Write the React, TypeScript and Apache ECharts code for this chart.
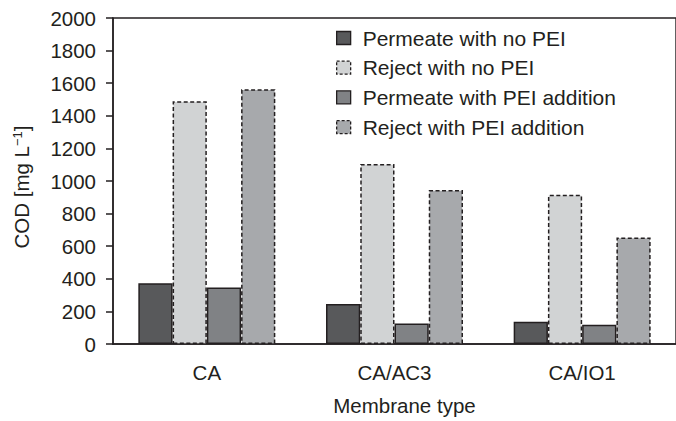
import React, { useEffect, useRef } from "react";
import * as echarts from "echarts";

const categories = ["CA", "CA/AC3", "CA/IO1"];
const seriesNames = [
  "Permeate with no PEI",
  "Reject with no PEI",
  "Permeate with PEI addition",
  "Reject with PEI addition",
];
const permeateNoPEI = [372, 246, 136];
const rejectNoPEI = [1490, 1105, 915];
const permeatePEI = [346, 126, 118];
const rejectPEI = [1563, 945, 654];
const yTicks = { min: 0, max: 2000, interval: 200 };

const FONT = "'Liberation Sans', Arial, Helvetica, sans-serif";
const INK = "#231f20";

export default function App() {
  const ref = useRef<HTMLDivElement>(null);
  useEffect(() => {
    if (!ref.current) return;
    const chart = echarts.init(ref.current, undefined, { renderer: "svg" });
    const values = [permeateNoPEI, rejectNoPEI, permeatePEI, rejectPEI];
    const colors = ["#58595b", "#d1d3d4", "#808285", "#a7a9ac"];
    const dashed = [false, true, false, true];
    const border = (i: number) => ({
      color: colors[i],
      borderColor: INK,
      borderWidth: 1.5,
      borderType: dashed[i] ? [4, 2.5] : "solid",
    });
    chart.setOption({
      animation: false,
      textStyle: { fontFamily: FONT, color: INK },
      grid: {
        left: 113,
        top: 18,
        width: 570,
        bottom: 75.5,
        show: true,
        borderColor: INK,
        borderWidth: 1.4,
        containLabel: false,
      },
      legend: {
        orient: "vertical",
        left: 336,
        top: 27.5,
        padding: 0,
        itemWidth: 14,
        itemHeight: 13,
        itemGap: 8.7,
        icon: "rect",
        textStyle: { fontSize: 21, color: INK, fontFamily: FONT, padding: [0, 0, 0, 7] },
        data: seriesNames.map((name, i) => ({
          name,
          itemStyle: {
            color: colors[i],
            borderColor: INK,
            borderWidth: 1.3,
            borderType: dashed[i] ? [3, 2] : "solid",
          },
        })),
      },
      xAxis: {
        type: "category",
        data: categories,
        name: "Membrane type",
        nameLocation: "middle",
        nameGap: 51,
        nameTextStyle: { fontSize: 20.5, color: INK, fontFamily: FONT, padding: [0, 0, 0, 20] },
        axisLine: { lineStyle: { color: INK, width: 1.5 } },
        axisTick: { alignWithLabel: true, length: 8, lineStyle: { color: INK, width: 1.5 } },
        axisLabel: { fontSize: 20.5, color: INK, fontFamily: FONT, margin: 18 },
      },
      yAxis: {
        type: "value",
        min: yTicks.min,
        max: yTicks.max,
        interval: yTicks.interval,
        name: "COD [mg L{sup|−1}]",
        nameLocation: "middle",
        nameRotate: 90,
        nameGap: 81,
        nameTextStyle: {
          fontSize: 20.5,
          color: INK,
          fontFamily: FONT,
          padding: [0, 12, 0, 0],
          rich: {
            sup: { fontSize: 13, color: INK, fontFamily: FONT, verticalAlign: "top", padding: [0, 0, 8, 0] },
          },
        },
        splitLine: { show: false },
        axisLine: { show: true, lineStyle: { color: INK, width: 1.5 } },
        axisTick: { show: true, length: 7, lineStyle: { color: INK, width: 1.5 } },
        axisLabel: {
          fontSize: 20.5,
          color: INK,
          fontFamily: FONT,
          margin: 17,
          formatter: (v: number) => String(v),
        },
      },
      series: seriesNames.map((name, i) => ({
        name,
        type: "bar",
        data: values[i],
        barGap: "0%",
        barCategoryGap: "27%",
        itemStyle: border(i),
      })),
    });
    return () => chart.dispose();
  }, []);
  return (
    <div
      ref={ref}
      style={{ position: "fixed", left: 0, top: 0, width: 676, height: 421, background: "#fff" }}
    />
  );
}
